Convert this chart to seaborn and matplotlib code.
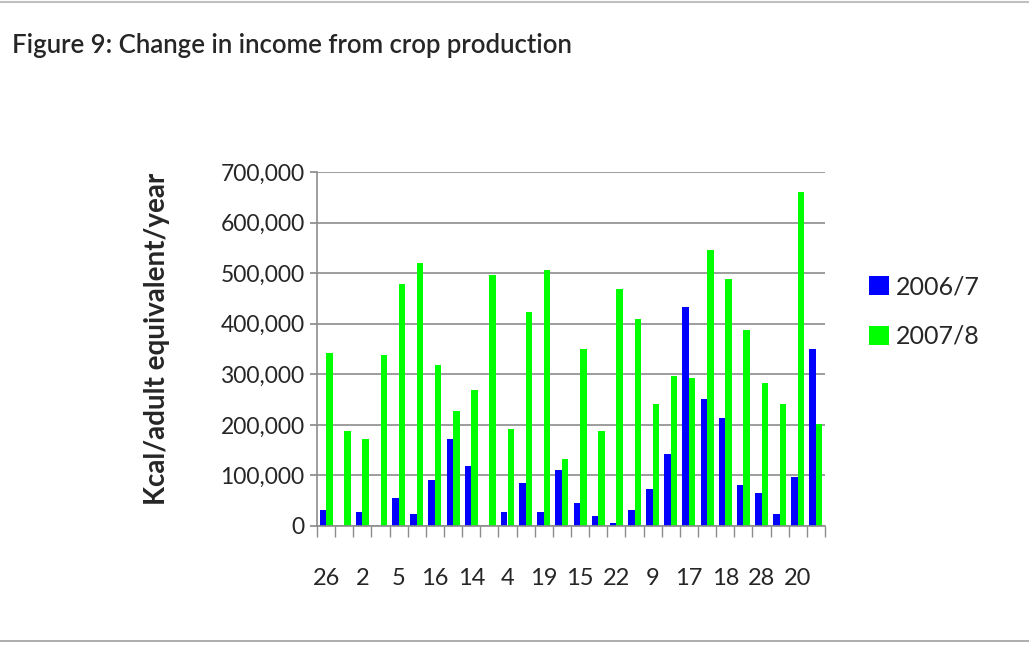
import matplotlib
matplotlib.use("Agg")
import matplotlib.pyplot as plt
import seaborn as sns
import pandas as pd
import numpy as np
from matplotlib.lines import Line2D
from matplotlib.patches import Patch

# ---- data ----
tick_labels = ["26", "", "2", "", "5", "", "16", "", "14", "", "4", "", "19", "",
               "15", "", "22", "", "9", "", "17", "", "18", "", "28", "", "20", ""]
values_2006 = [31000, 0, 27000, 0, 55000, 23000, 90000, 173000, 118000, 0,
               27000, 86000, 27000, 110000, 45000, 19000, 5000, 31000, 73000, 142000,
               433000, 251000, 213000, 82000, 65000, 23000, 96000, 350000]
values_2007 = [342000, 187000, 173000, 338000, 478000, 520000, 318000, 227000, 268000, 496000,
               191000, 423000, 506000, 132000, 350000, 187000, 468000, 409000, 241000, 296000,
               292000, 546000, 488000, 387000, 282000, 241000, 660000, 201000]
series = ["2006/7", "2007/8"]
colors = ["#0000FF", "#00FF00"]

groups = list(range(len(values_2006)))
df = pd.DataFrame({
    "group": groups * 2,
    "season": [series[0]] * len(groups) + [series[1]] * len(groups),
    "value": values_2006 + values_2007,
})

sns.set_theme(style="white")
plt.rcParams["font.family"] = ["Lato", "DejaVu Sans"]

fig = plt.figure(figsize=(10.29, 6.53), dpi=100)
ax = fig.add_axes([317 / 1029, 1 - 526 / 653, 508 / 1029, 354 / 653])

sns.barplot(data=df, x="group", y="value", hue="season", order=groups,
            hue_order=series, palette=colors, width=0.72, saturation=1,
            linewidth=0, ax=ax, legend=False)

ax.set_ylim(0, 700000)
ax.set_xlim(-0.5, len(groups) - 0.5)
ax.set_yticks(np.arange(0, 700001, 100000))
ax.set_yticklabels([f"{int(v):,}" for v in np.arange(0, 700001, 100000)], fontsize=16.5)
ax.yaxis.grid(True, color="#8c8c8c", linewidth=1.2)
ax.set_axisbelow(True)
ax.tick_params(axis="y", which="major", direction="out", length=5, color="#8c8c8c",
               left=True, pad=4)

ax.set_xticks(groups)
ax.set_xticklabels(tick_labels, fontsize=17)
ax.tick_params(axis="x", which="major", length=0, pad=30)
ax.set_xticks(np.arange(-0.5, len(groups), 1), minor=True)
ax.tick_params(axis="x", which="minor", direction="out", length=8, color="#8c8c8c",
               bottom=True)

for s in ["top", "right"]:
    ax.spines[s].set_visible(False)
for s in ["left", "bottom"]:
    ax.spines[s].set_color("#8c8c8c")
    ax.spines[s].set_linewidth(1.2)

ax.set_xlabel("")
ax.set_ylabel("Kcal/adult equivalent/year", fontsize=20, fontweight="bold")
ax.yaxis.set_label_coords(-0.29, 0.53)

handles = [Patch(facecolor=c, edgecolor="none") for c in colors]
fig.legend(handles, series, loc="upper left", bbox_to_anchor=(846 / 1029, 1 - 253 / 653),
           frameon=False, fontsize=18, handlelength=0.8, handleheight=0.8,
           handletextpad=0.3, labelspacing=1.05)

fig.text(12 / 1029, 1 - 46 / 653, "Figure 9: Change in income from crop production",
         fontsize=18.5, fontweight="semibold", va="center", ha="left")

fig.add_artist(Line2D([0, 1], [1 - 2 / 653, 1 - 2 / 653], color="#c0c0c0", linewidth=1.5))
fig.add_artist(Line2D([0, 1], [1 - 641 / 653, 1 - 641 / 653], color="#a0a0a0", linewidth=1.2))

fig.savefig("out.png", dpi=100)
